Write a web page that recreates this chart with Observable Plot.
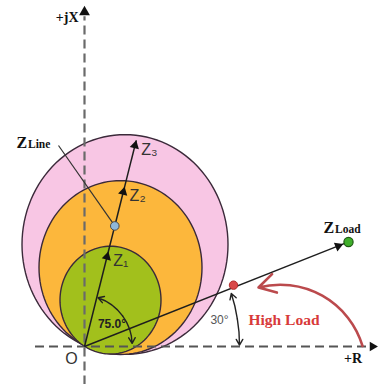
<!DOCTYPE html>
<html>
<head>
<meta charset="utf-8">
<script src="https://cdn.jsdelivr.net/npm/d3@7"></script>
<script src="https://cdn.jsdelivr.net/npm/@observablehq/plot@0.6"></script>
<style>
  body { margin: 0; background: #fff; }
  #chart svg { display: block; }
</style>
</head>
<body>
<div id="chart"></div>
<script>
// Mho distance relay zones on the R–jX impedance plane (ohms)
const zoneName    = ["Zone 3", "Zone 2", "Zone 1"];
const zoneCenterR = [4.05, 3.6, 2.6];
const zoneCenterX = [9.56, 7.4, 4.35];
const zoneRadius  = [10.3, 8.15, 5.05];
const zoneColor   = ["#f8c6e4", "#fcb73c", "#a2c01c"];

// Zone reaches along the line angle
const lineAngle  = 75.0;
const reachLabel = ["Z\u2081", "Z\u2082", "Z\u2083"];
const reachOhms  = [9.2, 15.5, 20.0];
const lineOhms   = 11.7;

// Load impedance and a heavy-load operating point
const loadR = 26.4, loadX = 9.8;
const highLoadR = 14.9, highLoadX = 5.75;

const lineAngleText = "75.0\u00b0";
const loadAngleText = "30\u00b0";

// Plot extent (ohms)
const W = 378, H = 384;
const xDomain = [-8.4, 29.4];
const yDomain = [-3.56, 32.43];
const kx = W / (xDomain[1] - xDomain[0]);
const ky = H / (yDomain[1] - yDomain[0]);

const rad = Math.PI / 180;
const polar = (r, a) => ({R: r * Math.cos(a * rad), X: r * Math.sin(a * rad)});
// screen rotation of a triangle pointing along a data direction
const headRotate = (dR, dX) => 90 - Math.atan2(ky * dX, kx * dR) / rad;

// circle outlines
const steps = d3.range(0, 361, 3);
const ring = i => steps.map(t => ({
  R: zoneCenterR[i] + zoneRadius[i] * Math.cos(t * rad),
  X: zoneCenterX[i] + zoneRadius[i] * Math.sin(t * rad)
}));

const lineDir = polar(1, lineAngle);
const reachTips = reachOhms.map((z, i) => ({...polar(z, lineAngle), label: reachLabel[i]}));
const reachHeads = reachOhms.map(z => polar(z - 0.5, lineAngle));
const lineEnd = polar(reachOhms[2], lineAngle);
const linePoint = polar(lineOhms, lineAngle);

const loadMag = Math.hypot(loadR, loadX);
const loadHead = {R: loadR * (1 - 1.1 / loadMag), X: loadX * (1 - 1.1 / loadMag)};

// angle arcs
const arc75 = {r: 4.77, from: 3.5, mid: 37, to: 73.5};
const arc30 = {r: 15.5, from: 0.5, mid: 9.6, to: 18.7};
const seg = (a, b) => [{p: polar(a.r, a.mid), q: polar(a.r, b)}];

const vAxisStyle = {stroke: "#6a6a6a", strokeWidth: 2.2, strokeDasharray: "9,5"};
const hAxisStyle = {stroke: "#555", strokeWidth: 2.2, strokeDasharray: "9,5"};
const serif = "Liberation Serif, Times New Roman, serif";
const sans = "Liberation Sans, Arial, sans-serif";

const arcArrow = (data, bend) => Plot.arrow(data, {
  x1: d => d.p.R, y1: d => d.p.X, x2: d => d.q.R, y2: d => d.q.X,
  bend, stroke: "#222", strokeWidth: 1.4, headLength: 7
});

const chart = Plot.plot({
  width: W, height: H,
  margin: 0,
  x: {domain: xDomain, axis: null},
  y: {domain: yDomain, axis: null},
  style: {background: "#fff"},
  marks: [
    // zones, largest first
    ...zoneName.map((n, i) => Plot.line(ring(i), {
      x: "R", y: "X", curve: "linear-closed",
      fill: zoneColor[i], stroke: "#3b2a3a", strokeWidth: 1.4
    })),
    // axes
    Plot.ruleX([0], {y1: -3.6, y2: 30.9, ...vAxisStyle}),
    Plot.ruleY([0], {x1: -4.9, x2: 28.6, ...hAxisStyle}),
    Plot.dot([{R: 0, X: 31.35}], {x: "R", y: "X", symbol: "triangle", r: 4, fill: "#111", rotate: 0}),
    Plot.dot([{R: 28.8, X: 0}], {x: "R", y: "X", symbol: "triangle", r: 3.5, fill: "#111", rotate: 90}),
    // line impedance direction with zone reaches
    Plot.link([lineEnd], {x1: 0, y1: 0, x2: "R", y2: "X", stroke: "#1e1e1e", strokeWidth: 1.5}),
    Plot.dot(reachHeads, {x: "R", y: "X", symbol: "triangle", r: 3.5, fill: "#111",
      rotate: headRotate(lineDir.R, lineDir.X)}),
    Plot.text(reachTips, {x: "R", y: "X", text: "label", dx: 5, dy: 9, textAnchor: "start",
      fontFamily: sans, fontSize: 16, fill: "#333"}),
    // ZLine leader and marker
    Plot.link([linePoint], {x1: -2.6, y1: 18.84, x2: "R", y2: "X", stroke: "#333", strokeWidth: 1.2}),
    Plot.dot([linePoint], {x: "R", y: "X", r: 4.3, fill: "#8fb7d9", stroke: "#4a4a4a", strokeWidth: 1}),
    // load line
    Plot.link([{R: loadR, X: loadX}], {x1: 0, y1: 0, x2: "R", y2: "X", stroke: "#1e1e1e", strokeWidth: 1.4}),
    Plot.dot([loadHead], {x: "R", y: "X", symbol: "triangle", r: 3.5, fill: "#111",
      rotate: headRotate(loadR, loadX)}),
    Plot.dot([{R: loadR, X: loadX}], {x: "R", y: "X", r: 4.6, fill: "#3fae2a", stroke: "#1f5a12", strokeWidth: 1.2}),
    Plot.dot([{R: highLoadR, X: highLoadX}], {x: "R", y: "X", r: 4.2, fill: "#d94848", stroke: "#b02c2c", strokeWidth: 1}),
    // angle arcs
    arcArrow(seg(arc75, arc75.to), -17.5),
    arcArrow(seg(arc75, arc75.from), 17.5),
    arcArrow(seg(arc30, arc30.to), -5),
    arcArrow(seg(arc30, arc30.from), 5),
    Plot.text([{R: 2.75, X: 2.06}], {x: "R", y: "X", text: [lineAngleText], fontFamily: sans,
      fontSize: 12, fill: "#222", fontWeight: "bold"}),
    Plot.text([{R: 13.5, X: 2.44}], {x: "R", y: "X", text: [loadAngleText], fontFamily: sans,
      fontSize: 12, fill: "#555"}),
    // heavy load annotation
    Plot.arrow([{a: {R: 27.8, X: 0.05}, b: {R: 17.4, X: 5.53}}], {
      x1: d => d.a.R, y1: d => d.a.X, x2: d => d.b.R, y2: d => d.b.X,
      bend: -44, stroke: "#bb4a4d", strokeWidth: 2.6, headLength: 11
    }),
    Plot.text([{R: 16.4, X: 1.97}], {x: "R", y: "X", text: ["High Load"], textAnchor: "start",
      lineAnchor: "bottom", fontFamily: serif, fontWeight: "bold", fontSize: 15.5, fill: "#d83a3a"}),
    // labels
    Plot.text([{R: -0.6, X: 30.4}], {x: "R", y: "X", text: ["+jX"], textAnchor: "end", lineAnchor: "bottom",
      fontFamily: serif, fontWeight: "bold", fontSize: 14, fill: "#111"}),
    Plot.text([{R: 26.85, X: -1.12}], {x: "R", y: "X", text: ["+R"], fontFamily: serif,
      fontWeight: "bold", fontSize: 14, fill: "#111"}),
    Plot.text([{R: -1.3, X: -1.2}], {x: "R", y: "X", text: ["O"], fontFamily: sans,
      fontSize: 16, fill: "#333"}),
    Plot.text([{R: -6.8, X: 18.56}], {x: "R", y: "X", text: ["Z"], textAnchor: "start", lineAnchor: "bottom",
      fontFamily: serif, fontWeight: "bold", fontSize: 16, fill: "#111"}),
    Plot.text([{R: -5.65, X: 18.56}], {x: "R", y: "X", text: ["Line"], textAnchor: "start", lineAnchor: "bottom",
      fontFamily: serif, fontWeight: "bold", fontSize: 11.5, fill: "#111"}),
    Plot.text([{R: loadR, X: loadX}], {x: "R", y: "X", text: ["Z"], dx: -25, dy: -9, textAnchor: "start",
      lineAnchor: "bottom", fontFamily: serif, fontWeight: "bold", fontSize: 16, fill: "#111"}),
    Plot.text([{R: loadR, X: loadX}], {x: "R", y: "X", text: ["Load"], dx: -13.5, dy: -9, textAnchor: "start",
      lineAnchor: "bottom", fontFamily: serif, fontWeight: "bold", fontSize: 11.5, fill: "#111"})
  ]
});

document.getElementById("chart").append(chart);
</script>
</body>
</html>
